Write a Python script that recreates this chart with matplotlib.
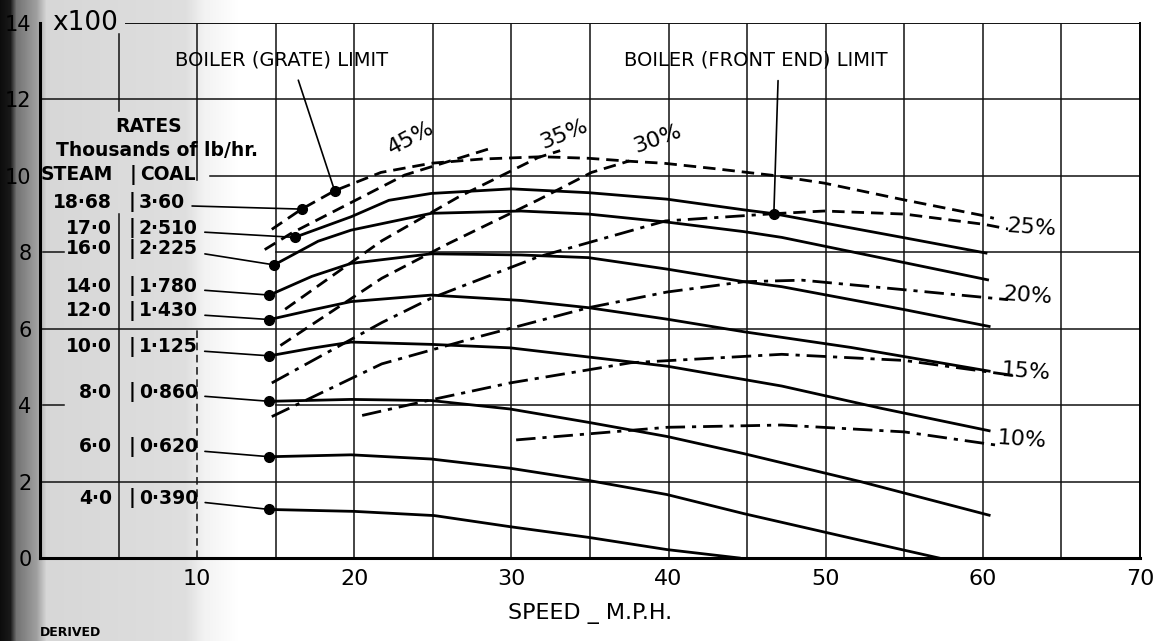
import numpy as np
import matplotlib.pyplot as plt

W, H = 1168, 641
plt.rcParams['font.family'] = ['DejaVu Sans']

# ---- data (speed in mph, output in units x100) ----
speed_ticks = [10, 20, 30, 40, 50, 60, 70]
value_ticks = [0, 2, 4, 6, 8, 10, 12, 14]
value_labels = ["0", "2", "4", "6", "8", "10", "12", "14"]

steam_rates = ["18·68", "17·0", "16·0", "14·0", "12·0", "10·0", "8·0", "6·0", "4·0"]
coal_rates = ["3·60", "2·510", "2·225", "1·780", "1·430", "1·125", "0·860", "0·620", "0·390"]

# 18.68 (dashed, beyond grate limit)
spd_1868 = [14.75, 16.65, 18.75, 21.7, 24.9, 28.1, 31.9, 34.9, 37.6, 39.7, 42.9, 46.7, 49.9, 55.0, 59.9, 60.7]
val_1868 = [8.6, 9.13, 9.61, 10.09, 10.33, 10.44, 10.5, 10.46, 10.38, 10.33, 10.19, 10.01, 9.81, 9.37, 8.97, 8.89]
spd_170 = [16.2, 19.8, 22.2, 24.9, 30.0, 34.9, 39.9, 44.8, 46.7, 55.0, 60.2]
val_170 = [8.39, 8.93, 9.36, 9.54, 9.66, 9.56, 9.39, 9.11, 9.01, 8.38, 7.98]
spd_160 = [14.9, 17.7, 19.8, 24.9, 30.6, 34.9, 39.9, 44.8, 47.2, 55.0, 60.3]
val_160 = [7.67, 8.29, 8.58, 9.02, 9.08, 9.0, 8.79, 8.54, 8.39, 7.73, 7.28]
spd_140 = [14.6, 17.3, 19.8, 24.9, 30.6, 34.9, 39.9, 44.8, 47.2, 55.0, 60.4]
val_140 = [6.88, 7.37, 7.71, 7.96, 7.93, 7.86, 7.56, 7.23, 7.1, 6.5, 6.06]
spd_120 = [14.6, 17.3, 19.8, 24.9, 30.6, 34.9, 39.9, 44.8, 51.6, 60.4]
val_120 = [6.24, 6.49, 6.71, 6.88, 6.74, 6.55, 6.25, 5.92, 5.51, 4.89]
spd_100 = [14.6, 17.3, 19.8, 24.9, 29.9, 34.9, 39.9, 47.2, 53.5, 60.4]
val_100 = [5.29, 5.49, 5.65, 5.59, 5.5, 5.26, 5.02, 4.5, 3.92, 3.33]
spd_80 = [14.6, 19.8, 24.9, 29.9, 34.9, 39.9, 44.8, 52.3, 60.4]
val_80 = [4.10, 4.15, 4.12, 3.90, 3.55, 3.18, 2.73, 1.99, 1.12]
spd_60 = [14.6, 19.8, 24.9, 29.9, 34.9, 39.9, 44.8, 51.6, 57.2]
val_60 = [2.65, 2.70, 2.59, 2.35, 2.03, 1.66, 1.16, 0.52, 0.0]
spd_40 = [14.6, 20.0, 25.1, 29.9, 34.9, 39.9, 44.5]
val_40 = [1.27, 1.22, 1.11, 0.82, 0.54, 0.22, 0.0]

# cut-off lines
spd_45 = [14.3, 16.0, 23.2, 28.6]
val_45 = [8.07, 8.5, 10.02, 10.71]
spd_35 = [15.6, 21.75, 26.6, 31.7, 33.1]
val_35 = [6.51, 8.3, 9.44, 10.48, 10.66]
spd_30 = [15.3, 21.75, 26.0, 31.7, 35.1, 37.5]
val_30 = [5.56, 7.32, 8.23, 9.37, 10.09, 10.39]
spd_25 = [14.75, 21.75, 24.9, 31.7, 39.8, 46.7]
val_25 = [4.58, 6.16, 6.80, 7.88, 8.82, 9.01]
spd_25b = [46.7, 49.9, 55.0, 60.1, 61.6]
val_25b = [9.01, 9.08, 9.0, 8.73, 8.61]
spd_20 = [14.75, 21.75, 28.1, 34.9, 39.9, 44.8, 48.5, 55.0, 61.6]
val_20 = [3.70, 5.08, 5.81, 6.55, 6.96, 7.23, 7.27, 7.02, 6.76]
spd_15 = [20.5, 24.9, 29.9, 37.6, 47.2, 55.0, 62.1]
val_15 = [3.73, 4.14, 4.58, 5.11, 5.33, 5.17, 4.77]
spd_10 = [30.3, 39.9, 47.2, 55.0, 61.1]
val_10 = [3.09, 3.42, 3.48, 3.30, 2.94]

grate_limit = (18.75, 9.61)
front_end_limit = (46.7, 9.01)


def fig_xy(x, y):
    return x / W, 1 - y / H


fig = plt.figure(figsize=(W / 100, H / 100), dpi=100)

# scanned paper shading on the left
bg = fig.add_axes([0, 0, 1, 1], zorder=-10)
cols = np.arange(W)
shade = np.interp(cols, [0, 10, 16, 36, 46, 185, 205, 240, W],
                  [0.05, 0.1, 0.45, 0.62, 0.84, 0.87, 0.95, 1.0, 1.0])
bg.imshow(np.tile(shade, (H, 1)), cmap='gray', vmin=0, vmax=1,
          aspect='auto', extent=[0, W, H, 0])
bg.axis('off')

ax = fig.add_axes([40 / W, 1 - 558 / H, 1100 / W, 535 / H])
ax.set_xlim(0, 70)
ax.set_ylim(0, 14)
ax.set_facecolor('none')
for s in ['left', 'bottom']:
    ax.spines[s].set_linewidth(2.2)
ax.spines['right'].set_linewidth(1.4)
ax.spines['top'].set_visible(False)

# grid
g = dict(color='#111', lw=1.1, zorder=1)
for xv in range(15, 70, 5):
    ax.plot([xv, xv], [0, 14], **g)
ax.plot([5, 5], [11.7, 13.7], **g)
ax.plot([5, 5], [0, 9.0], **g)
ax.plot([10, 10], [9.9, 14], **g)
ax.plot([10, 10], [0, 6.05], dashes=(5, 3), **g)
for yv in [2, 6, 12]:
    ax.plot([0, 70], [yv, yv], **g)
for yv in [4, 8]:
    ax.plot([15, 70], [yv, yv], **g)
    ax.plot([0.2, 1.5], [yv, yv], **g)
ax.plot([10.8, 70], [10, 10], **g)
ax.plot([5.5, 70], [14, 14], color='#111', lw=1.4)

# steam-rate curves
solid = dict(color='k', lw=2.0, zorder=3)
curves = [(spd_170, val_170), (spd_160, val_160), (spd_140, val_140), (spd_120, val_120),
          (spd_100, val_100), (spd_80, val_80), (spd_60, val_60), (spd_40, val_40)]
for xs, ys in curves:
    ax.plot(xs, ys, **solid)
ax.plot(spd_1868, val_1868, color='k', lw=2.0, dashes=(4.5, 2.5), zorder=3)

dash = dict(color='k', lw=2.0, dashes=(4.5, 2.5), zorder=3)
dashdot = dict(color='k', lw=2.0, dashes=(7, 2.5, 1.5, 2.5), zorder=3)
ax.plot(spd_45, val_45, **dash)
ax.plot(spd_35, val_35, **dash)
ax.plot(spd_30, val_30, **dash)
ax.plot(spd_25, val_25, **dashdot)
ax.plot(spd_25b, val_25b, **dash)
ax.plot(spd_20, val_20, **dashdot)
ax.plot(spd_15, val_15, **dashdot)
ax.plot(spd_10, val_10, **dashdot)

# start dots
starts = [(spd_1868[1], val_1868[1])] + [(xs[0], ys[0]) for xs, ys in curves]
for x0, y0 in starts + [grate_limit, front_end_limit]:
    ax.plot(x0, y0, 'o', ms=7, color='k', zorder=4)

# ticks
ax.set_xticks(speed_ticks)
ax.set_xticklabels([str(v) for v in speed_ticks], fontsize=16)
ax.set_yticks(value_ticks)
ax.set_yticklabels(value_labels, fontsize=15)
ax.tick_params(length=0, pad=8)
ax.tick_params(axis='y', pad=6)

fig.text(*fig_xy(85, 23), "x100", fontsize=19, ha='center', va='center')
fig.text(*fig_xy(590, 614), "SPEED _ M.P.H.", fontsize=16, ha='center', va='center')
fig.text(*fig_xy(40, 639), "DERIVED", fontsize=9, fontweight='bold', ha='left', va='bottom')

# table of rates
tb = dict(fontsize=13.5, fontweight='bold', va='center')
fig.text(*fig_xy(149, 126), "RATES", ha='center', **tb)
fig.text(*fig_xy(157, 150), "Thousands of lb/hr.", ha='center', **tb)
fig.text(*fig_xy(113, 175), "STEAM", ha='right', **tb)
fig.text(*fig_xy(133, 175), "|", ha='center', **tb)
fig.text(*fig_xy(140, 175), "COAL", ha='left', **tb)

row_py = [202, 228, 249, 286, 311, 347, 392, 447, 498]
for i, (st, co) in enumerate(zip(steam_rates, coal_rates)):
    py = row_py[i]
    fig.text(*fig_xy(112, py), st, ha='right', **tb)
    fig.text(*fig_xy(132, py), "|", ha='center', **tb)
    x0, y0 = starts[i]
    ax.annotate(co, xy=(x0, y0), xycoords='data',
                xytext=fig_xy(139, py), textcoords='figure fraction',
                ha='left', **tb,
                arrowprops=dict(arrowstyle='-', lw=1.2, color='k',
                                relpos=(1.0, 0.3), shrinkA=3, shrinkB=0))

# boiler limits
ax.annotate("BOILER (GRATE) LIMIT", xy=grate_limit, xycoords='data',
            xytext=fig_xy(282, 60), textcoords='figure fraction',
            ha='center', va='center', fontsize=14,
            arrowprops=dict(arrowstyle='-', lw=1.2, color='k',
                            relpos=(0.56, 0.0), shrinkA=6, shrinkB=0))
ax.annotate("BOILER (FRONT END) LIMIT", xy=front_end_limit, xycoords='data',
            xytext=fig_xy(756, 60), textcoords='figure fraction',
            ha='center', va='center', fontsize=14,
            arrowprops=dict(arrowstyle='-', lw=1.2, color='k',
                            relpos=(0.585, 0.0), shrinkA=6, shrinkB=0))

# cut-off percentage labels
pct = [("45%", 411, 138, 28), ("35%", 564, 134, 22), ("30%", 658, 139, 20),
       ("25%", 1032, 228, -4), ("20%", 1028, 296, -4), ("15%", 1026, 372, -4),
       ("10%", 1022, 440, -4)]
for txt, x, y, rot in pct:
    fig.text(*fig_xy(x, y), txt, fontsize=16, ha='center', va='center', rotation=rot)

fig.savefig("out.png", dpi=100)
